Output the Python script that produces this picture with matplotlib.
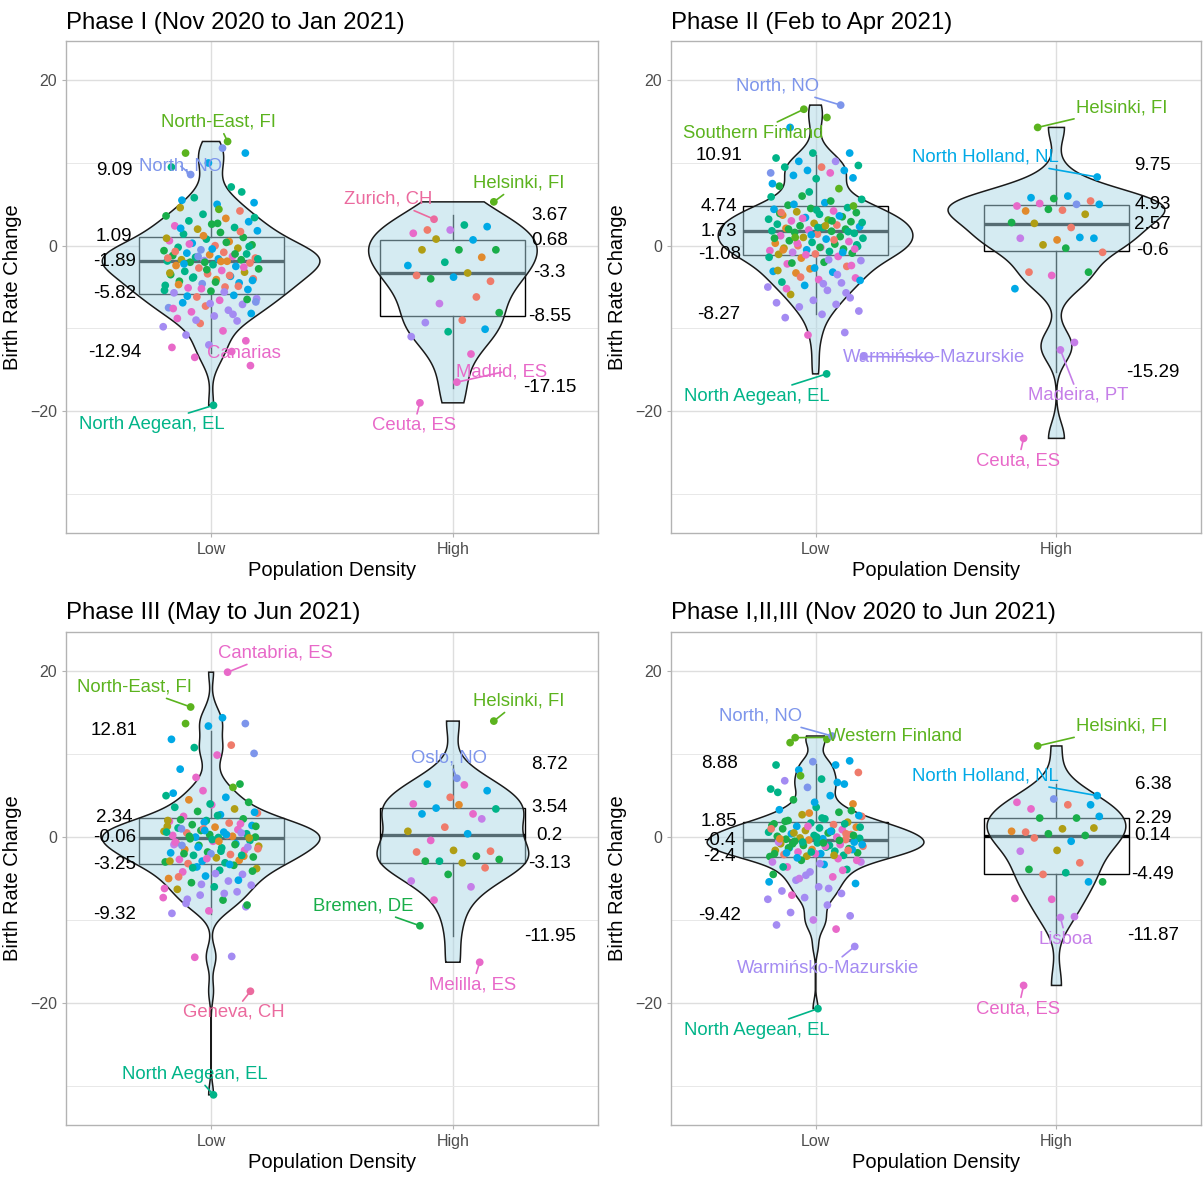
import numpy as np
import matplotlib.pyplot as plt

plt.rcParams['font.family'] = ['Liberation Sans', 'DejaVu Sans']

# ---- colours of the regions (country codes used in the strings below)
pal = {'g': '#5BB31E', 'b': '#7D95EB', 'c': '#00A9E6', 't': '#00B488',
       'd': '#19AE4A', 'm': '#E869C9', 'h': '#EB6A9E', 'p': '#A48BF2',
       'u': '#C57EE8', 's': '#EF7B6B', 'o': '#B09E14', 'r': '#E18A2C'}

groups = ['Low', 'High']

# ---- Phase I
p1_title = 'Phase I (Nov 2020 to Jan 2021)'
p1_low_y = [11.8, 11.2, 11.2, 10.0, 9.5, 7.1, 5.8, 5.2, 5.0, 4.6, 4.2, 3.8, 3.6, 3.3, 3.0, 2.9, 2.6, 2.4, 2.2, 2.0, 1.8, 1.6, 1.4,
            1.0, 0.8, 0.6, 0.5, 0.3, 0.1, 0.0, -0.2, -0.3, -0.5, -0.6, -0.8, -0.9, -1.0, -1.1, -1.2, -1.3, -1.4, -1.5, -1.6, -1.7, -1.7, -1.8, -1.85, -1.88,
            -2.0, -2.1, -2.3, -2.4, -2.5, -2.7, -2.8, -3.0, -3.1, -3.2, -3.4, -3.5, -3.7, -3.8, -4.0, -4.1, -4.3, -4.5, -4.6, -4.8, -5.0, -5.1, -5.3, -5.5, -5.7,
            -6.0, -6.2, -6.4, -6.6, -6.9, -7.1, -7.3, -7.5, -7.8, -8.0, -8.2, -8.5, -8.8, -9.1, -9.4, -9.8, -10.3, -10.8, -11.5, -12.0, -12.3, -12.8, -13.5,
            3.4, 2.7, 2.1, 1.7, 1.2, 0.9, 0.4, 0.2, -0.1, -0.4, -0.7, -1.0, -1.3, -1.6, -1.9, -2.2, -2.6, -2.9, -3.3, -3.6,
            -3.9, -4.2, -4.4, -4.7, -4.9, -5.2, -5.4, -5.6, -6.1, -6.5, -7.0, -7.6, -8.3, -9.0, -6.8, 4.4, 5.5, 6.5, -2.0, -1.5]
p1_low_c = ("bgcctttccostdrtcdmtocdt" + "dtmrcdstobdsctrdmtscodptr" + "dstrcsdmtosdctsrdcbtsmcdp" + "cspmcpsbpmcpmpspmpmpmmm"
            + "tdcsrodmtcsdbtrcmdostcdrsmtpcdpmppbgctds")
p1_high_y = [2.5, 1.9, 2.3, 1.9, 1.5, 0.7, 0.8, -0.5, -0.5, -0.5, -1.4, -2.0, -2.4, -3.3, -4.0, -4.3, -3.8, -3.6,
             -6.2, -7.0, -8.1, -9.0, -9.3, -10.1, -10.4, -11.0, -13.1]
p1_high_c = "tscumcoddortcodscssudspctpm"
p1_low_lab = ['North-East, FI', 'North, NO', 'Canarias', 'North Aegean, EL']
p1_low_lab_y = [12.6, 8.6, -14.5, -19.3]
p1_low_lab_c = "gbmt"
p1_high_lab = ['Zurich, CH', 'Helsinki, FI', 'Madrid, ES', 'Ceuta, ES']
p1_high_lab_y = [3.2, 5.3, -16.5, -19.0]
p1_high_lab_c = "hgmm"
p1_low_stats = [-12.94, -5.82, -1.89, 1.09, 9.09]
p1_high_stats = [-17.15, -8.55, -3.3, 0.68, 3.67]

# ---- Phase II
p2_title = 'Phase II (Feb to Apr 2021)'
p2_low_y = [15.5, 14.3, 11.2, 11.2, 10.6, 10.2, 10.2, 9.7, 9.5, 9.5, 9.1, 9.1, 8.8, 8.8, 8.5, 8.2, 8.1, 7.2, 6.9, 6.0, 5.6, 5.2, 4.9,
            4.6, 4.5, 4.4, 4.2, 4.1, 4.0, 3.8, 3.7, 3.5, 3.4, 3.2, 3.1, 3.0, 2.9, 2.7, 2.6, 2.5, 2.4, 2.3, 2.2, 2.1, 2.0, 1.9, 1.8, 1.75,
            1.6, 1.5, 1.4, 1.2, 1.1, 1.0, 0.9, 0.8, 0.6, 0.5, 0.4, 0.3, 0.2, 0.0, -0.1, -0.2, -0.3, -0.4, -0.5, -0.6, -0.7, -0.8, -0.9, -1.0, -1.05,
            -1.3, -1.5, -1.8, -2.0, -2.2, -2.5, -2.8, -3.1, -3.2, -3.3, -3.9, -4.1, -4.4, -4.5, -4.8, -5.0, -5.4, -5.9,
            -6.3, -6.6, -6.9, -7.1, -7.4, -7.9, -8.3, -8.7, -10.5, -10.8,
            5.9, 5.4, 5.0, 4.8, 4.3, 3.9, 3.6, 3.3, 2.8, 2.4, 2.0, 1.7, 1.3, 0.9, 0.7, 0.3, 0.1, -0.2, -0.5, -0.8,
            -1.1, -1.4, -1.7, -2.1, -2.4, -2.7, -3.0, -3.5, -3.8, -4.2, -4.6, -5.2, -5.7, 6.5, 7.5, 3.0, 1.0, -0.4, 2.2, 4.0]
p2_low_c = ("gccttpctstccbmcctdgdtcd" + "tdcmodtrdctgmdotsdctrdmtd" + "dtsmdotcdmtrdstmodcmtudso" + "mrpdmsrccrmmtpcppo" + "ppppppppp" + "m"
            + "tdcgtdcmtodtcdsmtdrcmtpdmcopscpmptcdgmts")
p2_high_y = [6.0, 5.8, 5.4, 5.7, 4.8, 5.0, 5.1, 5.0, 4.3, 4.2, 3.8, 4.4, 2.8, 2.2, 2.7, 0.9, 0.7, 0.9, 1.0, 0.1,
             -0.8, -0.3, -3.2, -3.2, -3.6, -5.2, -11.7]
p2_high_c = "ccsdmbmcsroddsocrucosdsdmcu"
p2_low_lab = ['North, NO', 'Southern Finland', 'Warmińsko-Mazurskie', 'North Aegean, EL']
p2_low_lab_y = [17.0, 16.5, -13.4, -15.5]
p2_low_lab_c = "bgpt"
p2_high_lab = ['Helsinki, FI', 'North Holland, NL', 'Madeira, PT', 'Ceuta, ES']
p2_high_lab_y = [14.3, 8.3, -12.6, -23.3]
p2_high_lab_c = "gcum"
p2_low_stats = [-8.27, -1.08, 1.73, 4.74, 10.91]
p2_high_stats = [-15.29, -0.6, 2.57, 4.93, 9.75]

# ---- Phase III
p3_title = 'Phase III (May to Jun 2021)'
p3_low_y = [14.4, 13.7, 13.7, 13.4, 11.8, 11.1, 10.8, 10.1, 9.9, 8.2, 6.4, 5.6, 5.0, 4.8, 4.5, 4.2, 3.9, 3.6, 3.4, 3.1, 2.9, 2.7, 2.5,
            2.2, 2.0, 1.9, 1.7, 1.5, 1.4, 1.2, 1.1, 0.9, 0.8, 0.7, 0.6, 0.5, 0.4, 0.3, 0.2, 0.1, 0.0, 0.0, -0.05, 1.0, 0.5, 1.8, 1.3, 0.2,
            -0.2, -0.4, -0.5, -0.7, -0.8, -1.0, -1.1, -1.3, -1.5, -1.6, -1.8, -1.9, -2.1, -2.2, -2.4, -2.5, -2.7, -2.8, -2.9, -3.0, -3.1, -3.2, -1.2, -2.0, -0.9,
            -3.4, -3.6, -3.8, -4.0, -4.2, -4.5, -4.7, -5.0, -5.3, -5.5, -5.8, -6.0, -6.3, -6.6, -7.0, -7.3, -7.6, -8.0, -8.4, -8.9, -9.2, -14.4, -14.5,
            3.0, 2.6, 2.1, 1.6, 1.0, 0.6, 0.3, 0.1, -0.1, -0.3, -0.6, -0.9, -1.2, -1.4, -1.7, -2.0, -2.3, -2.6, -2.9, -3.3,
            -3.7, -4.1, -4.4, -4.8, -5.2, -5.7, -6.2, -6.8, -7.5, -8.2, 4.0, 5.3, 6.0, 7.2, 1.3, -0.5, -1.0, -2.2, 0.8, 2.0]
p3_low_c = ("cgbccstbmcdmtcrdmtodscm" + "dtmsdcrtmdocstdmrcdtbpcos" + "dtmscdotrmdcstdomrcdtspbu" + "dcotmpcrpdptoppmdppmppm"
            + "ctdmstcdotmdcstdrmoctdpscpmppdtcgmdrbtco")
p3_high_y = [6.3, 6.4, 5.6, 4.8, 4.0, 2.8, 3.5, 3.4, 3.9, 2.8, 2.2, 1.2, 0.7, 0.4, -0.4, -1.7, -1.6, -1.8, -2.3, -2.9,
             -2.7, -3.1, -2.9, -3.7, -4.5, -5.3, -6.0, -7.6]
p3_high_c = "mccsmmctrcusocmsosdtdodsduum"
p3_low_lab = ['Cantabria, ES', 'North-East, FI', 'Geneva, CH', 'North Aegean, EL']
p3_low_lab_y = [19.9, 15.7, -18.6, -31.1]
p3_low_lab_c = "mght"
p3_high_lab = ['Helsinki, FI', 'Oslo, NO', 'Bremen, DE', 'Melilla, ES']
p3_high_lab_y = [14.0, 7.1, -10.7, -15.1]
p3_high_lab_c = "gbdm"
p3_low_stats = [-9.32, -3.25, -0.06, 2.34, 12.81]
p3_high_stats = [-11.95, -3.13, 0.2, 3.54, 8.72]

# ---- Phase I,II,III
p4_title = 'Phase I,II,III (Nov 2020 to Jun 2021)'
p4_low_y = [11.8, 11.4, 9.2, 9.1, 8.7, 8.7, 8.1, 7.8, 7.0, 6.8, 6.4, 6.0, 5.8, 5.0, 4.5, 4.0, 3.6, 3.3, 3.0, 2.7, 2.5, 2.2, 2.0,
            1.8, 1.7, 1.6, 1.5, 1.3, 1.2, 1.1, 1.0, 0.9, 0.8, 0.6, 0.5, 0.4, 0.3, 0.2, 0.1, 0.0, -0.1, -0.15, -0.2, -0.25, -0.3, -0.35, 1.4, 0.7,
            -0.5, -0.6, -0.7, -0.8, -0.9, -1.0, -1.1, -1.2, -1.3, -1.4, -1.5, -1.6, -1.7, -1.8, -1.9, -2.0, -2.1, -2.2, -2.3, -2.35, -1.0, -0.8, -1.5, -2.0, -0.6,
            -2.6, -2.8, -3.0, -3.3, -3.6, -3.9, -4.2, -4.5, -4.8, -5.2, -5.6, -6.0, -6.5, -6.8, -7.3, -7.5, -8.2, -9.1, -9.5, -10.0, -10.6, -11.1, -5.0,
            2.6, 2.3, 1.9, 1.6, 1.3, 1.0, 0.7, 0.5, 0.2, 0.0, -0.2, -0.4, -0.6, -0.9, -1.1, -1.3, -1.6, -1.8, -2.0, -2.2,
            -2.5, -2.8, -3.2, -3.6, -4.0, -4.6, -5.4, -6.2, -7.0, 3.2, 4.2, 5.4, 6.6, 7.4, 1.2, -0.7, -1.9, 0.4, 2.9, -3.0]
p4_low_c = ("ggcbtccstpcbtcdrtcdostd" + "otdscrtdmotdcstdmotcdsrdt" + "dctomdstcdrotmdcstodtdcmu" + "mducmtpdmpc" + "pppppppp" + "upmu"
            + "ctdtmscodtrdtcmdstdocmptmpcpmdctcgtdcsru")
p4_high_y = [3.9, 3.4, 3.9, 4.6, 4.2, 2.3, 2.3, 2.5, 1.0, 0.6, 0.2, 0.4, 0.7, -0.5, -0.1, 1.1, -1.6, -1.7,
             -3.1, -4.5, -5.4, -4.3, -3.9, -5.4, -7.5, -7.4, -9.6]
p4_high_c = "smcbmddcosddrcsooussdtdcmmu"
p4_low_lab = ['North, NO', 'Western Finland', 'Warmińsko-Mazurskie', 'North Aegean, EL']
p4_low_lab_y = [12.2, 12.0, -13.2, -20.7]
p4_low_lab_c = "bgpt"
p4_high_lab = ['Helsinki, FI', 'North Holland, NL', 'Lisboa', 'Ceuta, ES']
p4_high_lab_y = [11.0, 5.0, -9.7, -17.9]
p4_high_lab_c = "gcum"
p4_low_stats = [-9.42, -2.4, -0.4, 1.85, 8.88]
p4_high_stats = [-11.87, -4.49, 0.14, 2.29, 6.38]

# where the label texts sit (centre, data units) - layout only
p1_pos = [[(1.03, 14.9), (0.875, 9.6), (1.136, -13.0), (0.755, -21.6)],
          [(1.731, 5.6), (2.272, 7.55), (2.202, -15.3), (1.839, -21.7)]]
p2_pos = [[(0.842, 19.3), (0.743, 13.6), (1.491, -13.5), (0.755, -18.2)],
          [(2.272, 16.7), (1.706, 10.7), (2.09, -18.1), (1.842, -26.0)]]
p3_pos = [[(1.264, 22.2), (0.685, 18.1), (1.094, -21.15), (0.933, -28.6)],
          [(2.272, 16.4), (1.983, 9.55), (1.631, -8.3), (2.082, -17.8)]]
p4_pos = [[(0.772, 14.6), (1.33, 12.1), (1.053, -15.8), (0.755, -23.3)],
          [(2.272, 13.4), (1.706, 7.4), (2.04, -12.3), (1.842, -20.7)]]

panels = [
    (p1_title, [(p1_low_y, p1_low_c, p1_low_lab, p1_low_lab_y, p1_low_lab_c, p1_low_stats),
                (p1_high_y, p1_high_c, p1_high_lab, p1_high_lab_y, p1_high_lab_c, p1_high_stats)], p1_pos),
    (p2_title, [(p2_low_y, p2_low_c, p2_low_lab, p2_low_lab_y, p2_low_lab_c, p2_low_stats),
                (p2_high_y, p2_high_c, p2_high_lab, p2_high_lab_y, p2_high_lab_c, p2_high_stats)], p2_pos),
    (p3_title, [(p3_low_y, p3_low_c, p3_low_lab, p3_low_lab_y, p3_low_lab_c, p3_low_stats),
                (p3_high_y, p3_high_c, p3_high_lab, p3_high_lab_y, p3_high_lab_c, p3_high_stats)], p3_pos),
    (p4_title, [(p4_low_y, p4_low_c, p4_low_lab, p4_low_lab_y, p4_low_lab_c, p4_low_stats),
                (p4_high_y, p4_high_c, p4_high_lab, p4_high_lab_y, p4_high_lab_c, p4_high_stats)], p4_pos),
]

# panel boxes in pixels (left, top, right, bottom)
W, H = 1203, 1178
boxes = [(66, 41, 598, 533), (671, 41, 1201, 533), (66, 632, 598, 1125), (671, 632, 1201, 1125)]


def kde(y):
    # gaussian density like R's density() with bw.nrd0, trimmed to data range
    y = np.asarray(y, dtype=float)
    n = len(y)
    q75, q25 = np.percentile(y, [75, 25])
    bw = 0.9 * min(np.std(y, ddof=1), (q75 - q25) / 1.34) * n ** -0.2
    grid = np.linspace(y.min(), y.max(), 512)
    d = np.exp(-0.5 * ((grid[:, None] - y[None, :]) / bw) ** 2).sum(1) / (n * bw * np.sqrt(2 * np.pi))
    return grid, d


def jitter(n):
    return 0.2 * (2 * (((np.arange(n) + 1) * 0.6180339887) % 1) - 1)


fig = plt.figure(figsize=(W / 100, H / 100), dpi=100)
fill_rgba = (173 / 255, 216 / 255, 230 / 255, 0.5)

for (title, grp, lpos), (l, t, r, b) in zip(panels, boxes):
    ax = fig.add_axes([l / W, (H - b) / H, (r - l) / W, (b - t) / H])
    ax.set_xlim(0.4, 2.6)
    ax.set_ylim(-34.74, 24.75)

    # boxplots first (under the translucent violins)
    stats = []
    for g in grp:
        s = g[5]
        stats.append(dict(whislo=s[0], q1=s[1], med=s[2], q3=s[3], whishi=s[4], fliers=[]))
    ax.bxp(stats, positions=[1, 2], widths=0.6, showfliers=False, showcaps=False,
           patch_artist=True, manage_ticks=False,
           boxprops=dict(facecolor='white', edgecolor='black', linewidth=1.0),
           medianprops=dict(color='black', linewidth=2.4),
           whiskerprops=dict(color='black', linewidth=1.0), zorder=2)

    # violins, area scaled within the panel
    dens = []
    for g in grp:
        allv = list(g[0]) + list(g[3])
        dens.append(kde(allv))
    dmax = max(d.max() for _, d in dens)
    for pos, (grid, d) in zip([1, 2], dens):
        half = 0.45 * d / dmax
        xs = np.concatenate([pos - half, (pos + half)[::-1]])
        ys = np.concatenate([grid, grid[::-1]])
        ax.fill(xs, ys, facecolor=fill_rgba, edgecolor='#1a1a1a', linewidth=1.1, zorder=3)

    # jittered points and labels
    for k, (pos, g) in enumerate(zip([1, 2], grp)):
        ys, cs, labs, lys, lcs, st = g
        assert len(ys) == len(cs) and len(labs) == len(lys) == len(lcs)
        allv = list(ys) + list(lys)
        allc = [pal[ch] for ch in cs + lcs]
        xs = pos + jitter(len(allv))
        ax.scatter(xs, allv, s=31, c=allc, linewidths=0, zorder=5)
        for i, (name, ly, lc) in enumerate(zip(labs, lys, lcs)):
            px = xs[len(ys) + i]
            ax.annotate(name, xy=(px, ly), xytext=lpos[k][i], ha='center', va='center',
                        color=pal[lc], fontsize=13.3, zorder=6,
                        arrowprops=dict(arrowstyle='-', color=pal[lc], lw=1.2, shrinkA=0, shrinkB=0))
        # quantile numbers
        tx = 0.6 if pos == 1 else 2.4
        for v in st:
            ax.text(tx, v, f"{v:g}", ha='center', va='center', fontsize=13.5, color='black', zorder=6)

    ax.set_xticks([1, 2])
    ax.set_xticklabels(groups)
    ax.set_yticks([-20, 0, 20])
    ax.set_yticks([-30, -10, 10], minor=True)
    ax.set_axisbelow(True)
    ax.grid(which='major', color='#DEDEDE', linewidth=1.0)
    ax.grid(which='minor', axis='y', color='#E8E8E8', linewidth=0.7)
    for sp in ax.spines.values():
        sp.set_color('#B3B3B3')
        sp.set_linewidth(1.0)
    ax.tick_params(which='major', color='#B3B3B3', length=3, labelcolor='#4D4D4D', labelsize=11.5)
    ax.tick_params(which='minor', length=0)
    ax.set_xlabel('Population Density', fontsize=14.5, labelpad=3)
    ax.set_ylabel('Birth Rate Change', fontsize=14.5, labelpad=6)
    ax.set_title(title, loc='left', fontsize=17.3, pad=9)

fig.savefig('out.png', dpi=100)
